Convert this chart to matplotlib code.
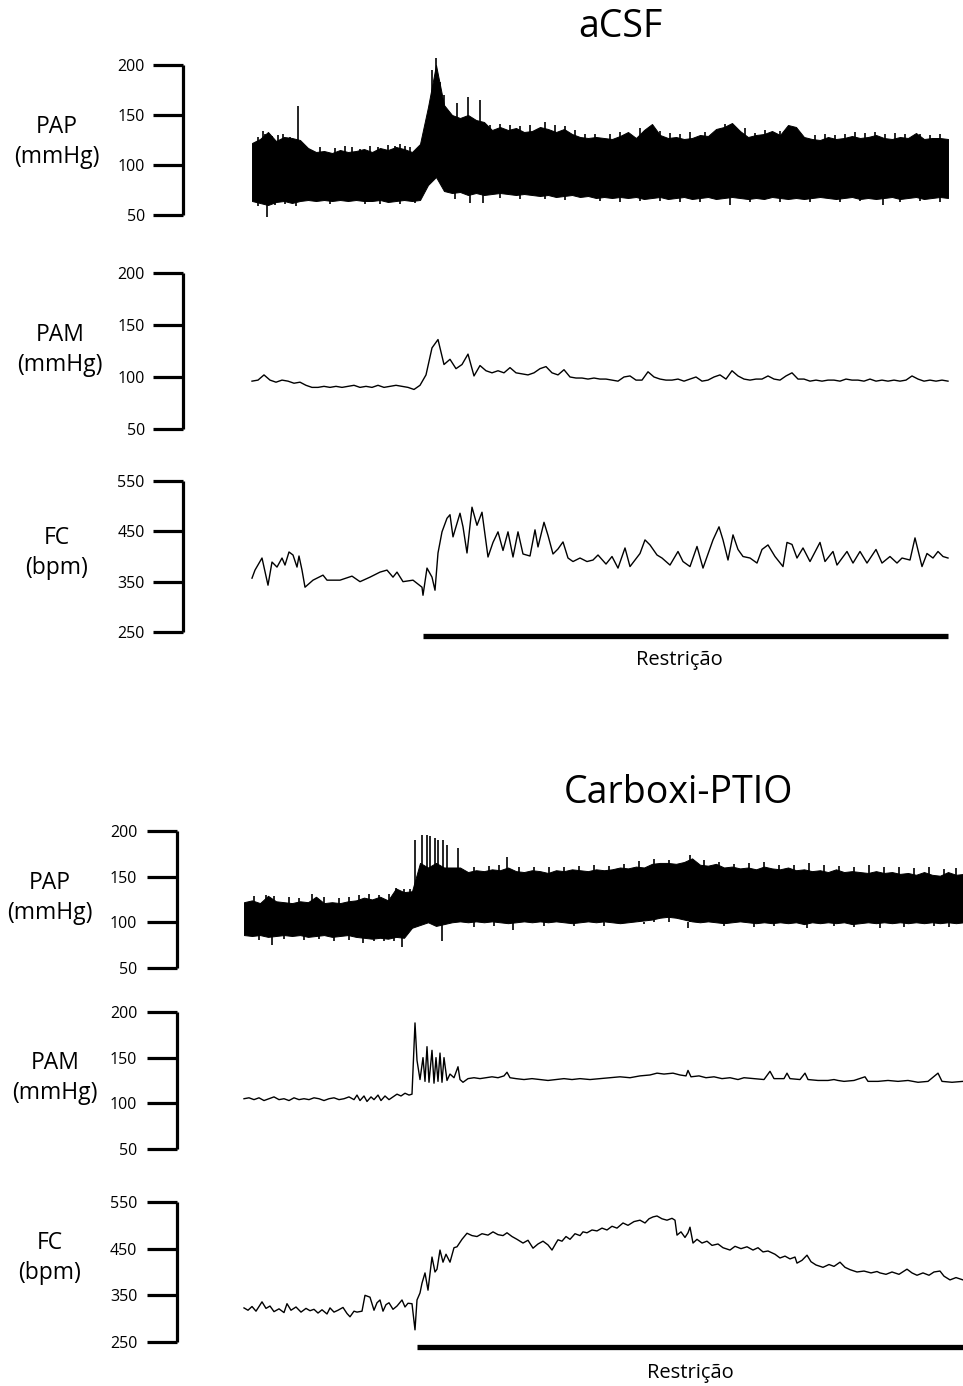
import numpy as np
import matplotlib
matplotlib.use('Agg')
import matplotlib.pyplot as plt

plt.rcParams['font.family'] = ['Open Sans', 'DejaVu Sans']

# ---- aCSF recordings (time in s from start of trace) ----
pap_a_step = 8
pap_a_hi = [122, 126, 133, 124, 128, 127, 125, 117, 113, 114,
            112, 115, 113, 114, 116, 113, 117, 115, 118, 116,
            113, 121, 158, 200, 160, 150, 147, 150, 145, 143,
            135, 138, 135, 137, 133, 134, 138, 136, 133, 136,
            131, 128, 127, 128, 127, 126, 129, 133, 127, 135,
            141, 130, 127, 128, 126, 127, 130, 129, 136, 138,
            142, 134, 128, 130, 131, 134, 130, 140, 138, 128,
            126, 125, 128, 126, 127, 129, 127, 128, 130, 127,
            126, 128, 127, 132, 126, 127, 127, 126]
pap_a_lo = [64, 62, 60, 63, 64, 62, 64, 65, 64, 65,
            64, 65, 64, 65, 64, 64, 65, 63, 64, 65,
            64, 65, 80, 88, 74, 72, 73, 70, 72, 70,
            71, 72, 71, 70, 71, 70, 69, 70, 68, 69,
            70, 68, 69, 67, 68, 67, 68, 67, 68, 66,
            67, 68, 66, 67, 68, 66, 67, 68, 66, 67,
            68, 67, 66, 67, 66, 68, 67, 66, 67, 66,
            67, 68, 67, 66, 67, 68, 66, 67, 66, 67,
            68, 66, 67, 68, 66, 67, 68, 67]
pap_a_peak_t = [6, 11, 13, 20, 26, 31, 38, 46, 68, 83, 93, 100, 108, 118,
                126, 136, 143, 148, 153, 158, 180, 184, 188, 192, 205, 216,
                228, 238, 248, 258, 268, 278, 293, 303, 313, 323, 333, 343,
                358, 368, 388, 408, 418, 428, 438, 453, 473, 493, 503, 513,
                528, 548, 563, 573, 583, 593, 603, 613, 623, 633, 643, 653,
                668, 678, 688]
pap_a_peak = [128, 134, 131, 129, 130, 131, 128, 159, 118, 117, 119, 118,
              116, 119, 118, 120, 119, 121, 119, 118, 195, 207, 183, 170,
              162, 168, 165, 140, 141, 140, 139, 140, 143, 140, 139, 135,
              131, 131, 131, 133, 137, 134, 132, 131, 133, 133, 141, 137,
              132, 135, 134, 131, 130, 131, 130, 131, 133, 132, 133, 131,
              132, 131, 131, 130, 131]
pap_a_dip_t = [6, 15, 23, 33, 44, 78, 113, 128, 148, 163, 203, 218, 231,
               248, 268, 293, 313, 348, 368, 388, 408, 428, 448, 478, 498,
               528, 558, 588, 608, 631, 648, 668, 688]
pap_a_dip = [59, 48, 60, 61, 59, 61, 61, 61, 61, 62, 66, 62, 62, 67, 66,
             66, 65, 64, 63, 64, 64, 63, 63, 60, 63, 63, 63, 63, 64, 60,
             63, 64, 63]

pam_a_step = 6
pam_a = [96, 97, 102, 97, 95, 97, 96, 94, 95, 92,
         90, 90, 91, 90, 91, 90, 91, 92, 90, 91,
         90, 92, 90, 91, 92, 91, 90, 88, 92, 102,
         128, 136, 112, 117, 108, 112, 122, 101, 111, 106,
         104, 106, 104, 109, 104, 103, 102, 104, 108, 110,
         104, 102, 107, 100, 99, 99, 98, 99, 98, 98,
         97, 96, 100, 101, 97, 97, 105, 100, 98, 97,
         97, 98, 96, 98, 100, 96, 97, 100, 102, 98,
         106, 101, 98, 97, 98, 98, 101, 98, 97, 101,
         104, 98, 98, 96, 97, 96, 97, 97, 96, 98,
         97, 97, 96, 98, 96, 97, 96, 97, 96, 97,
         101, 98, 96, 97, 96, 97, 96]

fc_a_t = [0, 3, 10, 16, 20, 25, 30, 33, 37, 41,
          45, 47, 50, 53, 61, 71, 75, 88, 100, 108,
          118, 128, 135, 141, 145, 151, 161, 170, 171, 175,
          180, 183, 186, 190, 195, 198, 201, 208, 211, 215,
          220, 225, 230, 236, 241, 246, 251, 256, 261, 266,
          271, 278, 283, 286, 292, 296, 301, 306, 311, 316,
          321, 328, 335, 341, 346, 354, 360, 366, 373, 378,
          388, 393, 398, 405, 410, 418, 426, 431, 438, 445,
          451, 461, 467, 471, 476, 481, 486, 491, 498, 505,
          510, 516, 523, 531, 535, 540, 545, 551, 558, 568,
          573, 581, 585, 595, 601, 608, 615, 624, 630, 638,
          645, 650, 658, 663, 670, 675, 681, 686, 691, 696]
fc_a = [357, 373, 397, 343, 389, 379, 397, 383, 409, 403,
        379, 401, 373, 339, 353, 363, 353, 353, 361, 350,
        359, 369, 373, 359, 369, 350, 353, 339, 323, 377,
        359, 333, 407, 449, 476, 483, 439, 486, 459, 407,
        498, 462, 488, 399, 428, 449, 412, 449, 399, 449,
        405, 401, 453, 419, 468, 442, 405, 415, 429, 397,
        390, 397, 390, 393, 403, 385, 400, 377, 417, 380,
        406, 433, 423, 403, 397, 383, 410, 390, 380, 420,
        377, 433, 459, 433, 393, 443, 414, 400, 397, 387,
        414, 423, 400, 380, 428, 424, 397, 417, 390, 428,
        390, 410, 383, 410, 387, 410, 387, 414, 387, 400,
        387, 397, 393, 437, 380, 406, 397, 410, 400, 397]
restr_a = [171, 696]

# ---- Carboxi-PTIO recordings ----
pap_c_step = 8
pap_c_hi = [122, 124, 121, 129, 123, 122, 121, 123, 122, 128,
            121, 122, 121, 123, 124, 127, 125, 128, 124, 137,
            133, 134, 165, 160, 165, 160, 160, 160, 155, 157,
            156, 158, 157, 160, 156, 155, 157, 156, 154, 157,
            156, 158, 157, 156, 158, 157, 158, 160, 159, 161,
            160, 164, 165, 165, 164, 166, 170, 163, 162, 164,
            160, 161, 159, 160, 158, 161, 159, 158, 160, 157,
            158, 156, 157, 155, 158, 155, 156, 155, 154, 156,
            154, 155, 153, 154, 152, 155, 152, 151, 155, 152,
            153]
pap_c_lo = [86, 85, 86, 84, 85, 86, 85, 86, 84, 85,
            86, 84, 85, 86, 84, 83, 82, 83, 82, 84,
            83, 94, 97, 100, 96, 98, 100, 101, 100, 101,
            100, 101, 100, 99, 100, 101, 100, 101, 100, 101,
            100, 99, 100, 101, 100, 101, 100, 99, 100, 101,
            102, 103, 105, 106, 105, 103, 101, 100, 101, 100,
            99, 100, 101, 100, 99, 100, 99, 100, 99, 100,
            98, 100, 99, 100, 99, 100, 98, 99, 100, 99,
            100, 99, 100, 99, 100, 99, 100, 99, 100, 99,
            100]
pap_c_peak_t = [10, 22, 30, 45, 55, 68, 80, 95, 105, 115, 125, 135, 145,
                152, 160, 166, 171, 178, 183, 186, 191, 194, 199, 203, 214,
                230, 245, 255, 263, 275, 290, 305, 320, 335, 350, 365, 380,
                395, 410, 425, 446, 460, 475, 490, 505, 520, 535, 550, 565,
                580, 595, 610, 625, 640, 655, 670, 685, 700, 712]
pap_c_peak = [129, 130, 129, 128, 127, 131, 128, 127, 128, 130, 131, 130,
              131, 138, 136, 136, 190, 196, 196, 194, 192, 190, 190, 185,
              181, 161, 162, 163, 172, 161, 160, 161, 160, 162, 163, 162,
              164, 167, 169, 168, 174, 168, 166, 164, 165, 166, 163, 163,
              165, 163, 162, 161, 163, 160, 160, 159, 161, 158, 159]
pap_c_dip_t = [15, 28, 40, 60, 75, 90, 105, 119, 130, 140, 150, 158, 198,
               230, 250, 269, 300, 330, 360, 400, 444, 480, 510, 530, 563,
               590, 610, 636, 660, 690, 705]
pap_c_dip = [81, 75, 82, 81, 82, 80, 81, 77, 79, 80, 79, 73, 80, 95, 96,
             92, 96, 96, 96, 98, 94, 96, 95, 96, 94, 96, 95, 94, 95, 96, 95]

pam_c_t = [0, 5, 10, 15, 20, 25, 30, 35, 40, 45,
           50, 55, 60, 65, 70, 75, 80, 85, 90, 95,
           100, 105, 110, 113, 116, 120, 123, 127, 130, 134,
           137, 141, 145, 149, 153, 157, 161, 165, 168, 171,
           173, 176, 179, 181, 183, 185, 188, 190, 192, 194,
           196, 198, 200, 203, 206, 210, 214, 216, 219, 224,
           230, 236, 242, 248, 254, 260, 263, 266, 272, 280,
           288, 296, 304, 312, 320, 328, 336, 346, 356, 366,
           376, 386, 396, 406, 413, 420, 429, 436, 442, 444,
           447, 455, 462, 470, 478, 486, 494, 500, 510, 520,
           526, 530, 540, 543, 546, 556, 561, 564, 574, 584,
           590, 594, 600, 610, 621, 624, 634, 644, 654, 664,
           674, 684, 694, 698, 708, 719]
pam_c = [105, 106, 104, 106, 103, 105, 107, 104, 105, 103,
         106, 104, 105, 104, 106, 105, 103, 105, 106, 104,
         105, 107, 104, 109, 103, 108, 102, 107, 104, 109,
         103, 108, 104, 107, 110, 108, 111, 109, 110, 188,
         147, 126, 150, 124, 162, 123, 158, 122, 150, 124,
         155, 123, 150, 125, 132, 128, 140, 126, 123, 127,
         128, 127, 128, 129, 128, 130, 134, 128, 127, 126,
         127, 126, 125, 126, 127, 126, 127, 126, 127, 128,
         129, 128, 130, 131, 133, 132, 133, 131, 130, 136,
         129, 130, 128, 129, 127, 128, 126, 128, 127, 126,
         135, 127, 127, 133, 127, 126, 133, 126, 125, 125,
         126, 125, 124, 125, 129, 124, 124, 125, 124, 125,
         123, 124, 133, 124, 123, 124]

fc_c_t = [0, 4, 8, 12, 18, 22, 26, 30, 35, 40,
          43, 47, 52, 57, 62, 66, 70, 74, 78, 83,
          86, 90, 94, 99, 103, 106, 110, 113, 118, 121,
          126, 130, 133, 136, 139, 142, 145, 149, 153, 158,
          161, 164, 168, 171, 173, 176, 178, 181, 184, 188,
          191, 193, 196, 199, 202, 206, 210, 213, 218, 223,
          228, 233, 238, 244, 249, 254, 259, 263, 268, 273,
          279, 284, 289, 294, 299, 304, 308, 312, 314, 318,
          322, 326, 331, 336, 339, 343, 348, 353, 358, 363,
          368, 373, 379, 384, 390, 396, 401, 405, 409, 413,
          418, 423, 428, 431, 433, 437, 441, 444, 446, 449,
          453, 458, 463, 468, 474, 479, 486, 491, 497, 503,
          509, 514, 519, 524, 531, 536, 541, 546, 551, 553,
          558, 563, 567, 572, 579, 585, 590, 596, 601, 606,
          613, 620, 627, 633, 636, 642, 648, 655, 663, 668,
          673, 679, 685, 690, 696, 700, 706, 712, 719]
fc_c = [323, 318, 326, 316, 336, 322, 327, 315, 321, 313,
        332, 318, 325, 314, 322, 317, 320, 312, 319, 310,
        323, 314, 318, 324, 311, 304, 316, 314, 316, 350,
        346, 318, 334, 340, 316, 330, 334, 320, 327, 340,
        325, 333, 332, 276, 340, 355, 376, 398, 361, 432,
        400, 406, 447, 421, 438, 421, 452, 454, 470, 483,
        478, 476, 482, 479, 486, 480, 478, 484, 476, 470,
        462, 468, 451, 460, 466, 458, 447, 462, 469, 466,
        476, 470, 482, 478, 486, 484, 490, 488, 494, 490,
        498, 494, 505, 500, 508, 511, 505, 514, 518, 520,
        514, 511, 515, 511, 479, 486, 474, 484, 496, 462,
        470, 462, 466, 457, 460, 452, 447, 455, 450, 454,
        447, 452, 443, 445, 438, 430, 434, 428, 432, 419,
        425, 436, 422, 415, 410, 416, 412, 421, 410, 405,
        400, 402, 398, 401, 398, 395, 400, 395, 406, 398,
        393, 398, 393, 400, 402, 391, 383, 388, 383]
restr_c = [173, 719]

pressure_ticks = [50, 100, 150, 200]
hr_ticks = [250, 350, 450, 550]

W, H = 963, 1386
fig = plt.figure(figsize=(W / 100, H / 100), dpi=100)


def panel(x0, y0, y1, xlim, ylim, bounds, ticks, pad):
    ax = fig.add_axes([x0 / W, 1 - y1 / H, (W - x0) / W, (y1 - y0) / H])
    ax.set_xlim(*xlim)
    ax.set_ylim(*ylim)
    for s in ['top', 'right', 'bottom']:
        ax.spines[s].set_visible(False)
    ax.spines['left'].set_linewidth(2.3)
    ax.spines['left'].set_bounds(*bounds)
    ax.spines['left'].set_capstyle('butt')
    ax.set_xticks([])
    ax.set_yticks(ticks)
    ax.tick_params(axis='y', length=21.5, width=2.3, labelsize=11.5, pad=pad)
    ax.patch.set_visible(False)
    return ax


def draw_pap(ax, step, hi, lo, pk_t, pk, dp_t, dp):
    t = np.arange(len(hi)) * step
    ax.fill_between(t, lo, hi, color='black', lw=0.7, edgecolor='black')
    ax.vlines(pk_t, 100, pk, color='black', lw=1.2)
    ax.vlines(dp_t, 100, dp, color='black', lw=1.2)


# aCSF
xa = (-69, 711)
ax1 = panel(183, 50, 220, xa, (45, 215), (50, 200), pressure_ticks, 6)
draw_pap(ax1, pap_a_step, pap_a_hi, pap_a_lo, pap_a_peak_t, pap_a_peak,
         pap_a_dip_t, pap_a_dip)

ax2 = panel(183, 265, 440, xa, (39.4, 207.7), (50, 200), pressure_ticks, 6)
ax2.plot(np.arange(len(pam_a)) * pam_a_step, pam_a, color='black', lw=1.0)

ax3 = panel(183, 470, 640, xa, (234.1, 571.9), (250, 550), hr_ticks, 6)
ax3.plot(fc_a_t, fc_a, color='black', lw=1.0)
ax3.plot(restr_a, [242, 242], color='black', lw=3.8, clip_on=False,
         solid_capstyle='butt')

# Carboxi-PTIO
xc = (-67, 719)
ax4 = panel(177, 820, 980, xc, (36.8, 212.0), (50, 200), pressure_ticks, 7)
draw_pap(ax4, pap_c_step, pap_c_hi, pap_c_lo, pap_c_peak_t, pap_c_peak,
         pap_c_dip_t, pap_c_dip)

ax5 = panel(177, 1000, 1160, xc, (37.9, 213.1), (50, 200), pressure_ticks, 7)
ax5.plot(pam_c_t, pam_c, color='black', lw=1.0)

ax6 = panel(177, 1190, 1350, xc, (232.8, 575.7), (250, 550), hr_ticks, 7)
ax6.plot(fc_c_t, fc_c, color='black', lw=1.0)
ax6.plot(restr_c, [239.3, 239.3], color='black', lw=3.8, clip_on=False,
         solid_capstyle='butt')


# text
def ftext(x, y, s, size):
    fig.text(x / W, 1 - y / H, s, ha='center', va='center', fontsize=size,
             linespacing=1.3)


ftext(620, 27, 'aCSF', 27)
ftext(678, 793, 'Carboxi-PTIO', 27)
ftext(57, 142, 'PAP\n(mmHg)', 16.5)
ftext(60, 350, 'PAM\n(mmHg)', 16.5)
ftext(57, 553, 'FC\n(bpm)', 16.5)
ftext(50, 898, 'PAP\n(mmHg)', 16.5)
ftext(55, 1078, 'PAM\n(mmHg)', 16.5)
ftext(50, 1258, 'FC\n(bpm)', 16.5)
ftext(679, 660, 'Restrição', 14.5)
ftext(690, 1373, 'Restrição', 14.5)

fig.savefig('out.png', dpi=100)
